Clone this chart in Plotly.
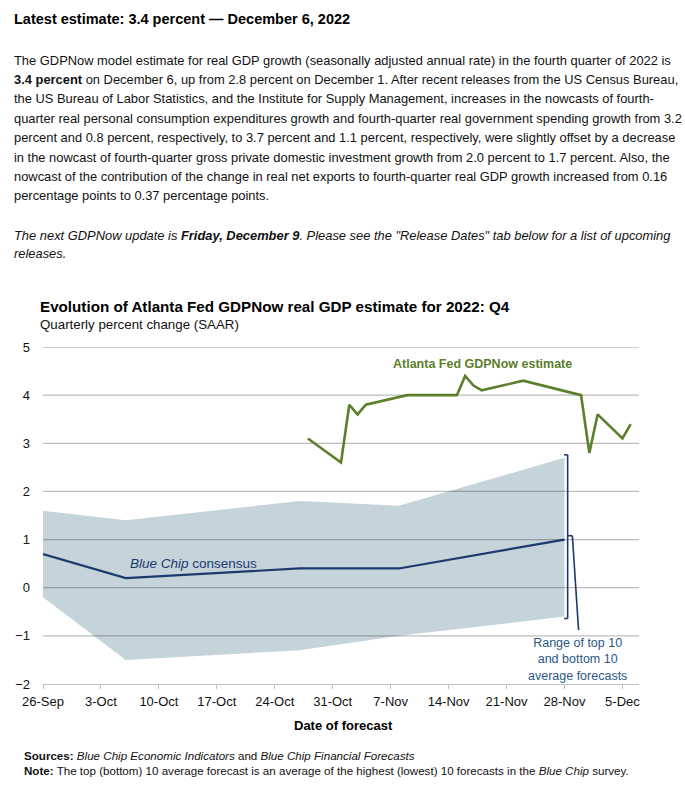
import plotly.graph_objects as go
from datetime import datetime, timedelta

# ---------------- data ----------------
gdpnow_dates = ["2022-10-28", "2022-11-01", "2022-11-02", "2022-11-03", "2022-11-04",
                "2022-11-09", "2022-11-15", "2022-11-16", "2022-11-17", "2022-11-18",
                "2022-11-23", "2022-11-30", "2022-12-01", "2022-12-02", "2022-12-05",
                "2022-12-06"]
gdpnow_values = [3.1, 2.6, 3.8, 3.6, 3.8, 4.0, 4.0, 4.4, 4.2, 4.1, 4.3, 4.0, 2.8, 3.6, 3.1, 3.4]

bluechip_dates = ["2022-09-26", "2022-10-06", "2022-10-27", "2022-11-08", "2022-11-28"]
bluechip_consensus = [0.7, 0.2, 0.4, 0.4, 1.0]
bluechip_top10 = [1.6, 1.4, 1.8, 1.7, 2.7]
bluechip_bottom10 = [-0.2, -1.5, -1.3, -1.0, -0.6]

x_tick_vals = ["2022-09-26", "2022-10-03", "2022-10-10", "2022-10-17", "2022-10-24",
               "2022-10-31", "2022-11-07", "2022-11-14", "2022-11-21", "2022-11-28",
               "2022-12-05"]
x_tick_text = ["26-Sep", "3-Oct", "10-Oct", "17-Oct", "24-Oct", "31-Oct", "7-Nov",
               "14-Nov", "21-Nov", "28-Nov", "5-Dec"]
y_tick_vals = [-2, -1, 0, 1, 2, 3, 4, 5]

# ---------------- layout constants ----------------
W, H = 685, 791
ML, MR, MT, MB = 43, 46, 347, 107
PW = W - ML - MR
PH = H - MT - MB

GREEN = "#5b7f2a"
NAVY = "#1c3a6e"
TEXTBLUE = "#2b5787"
GRID = "#c0c0c0"
GRID_T = "rgba(0,0,0,0.26)"
FONT = "Liberation Sans, Arial, sans-serif"


def px(x):
    return (x - ML) / PW


def py(y):
    return (H - MB - y) / PH


fig = go.Figure()

# band (top 10 / bottom 10)
fig.add_trace(go.Scatter(x=bluechip_dates, y=bluechip_bottom10, mode="lines",
                         line=dict(width=0), hoverinfo="skip", showlegend=False))
fig.add_trace(go.Scatter(x=bluechip_dates, y=bluechip_top10, mode="lines",
                         line=dict(width=0), fill="tonexty",
                         fillcolor="#c5d3db",
                         hoverinfo="skip", showlegend=False))
# consensus
fig.add_trace(go.Scatter(x=bluechip_dates, y=bluechip_consensus, mode="lines",
                         line=dict(color=NAVY, width=2.2), showlegend=False))
# GDPNow
fig.add_trace(go.Scatter(x=gdpnow_dates, y=gdpnow_values, mode="lines",
                         line=dict(color=GREEN, width=2.6), showlegend=False))

shapes = []
# gridlines: translucent so they darken over the shaded band (as in the original)
band_lo, band_hi = min(bluechip_bottom10), max(bluechip_top10)
for v in y_tick_vals[1:]:
    layer = "above" if band_lo <= v <= band_hi else "below"
    shapes.append(dict(type="line", xref="paper", yref="y", x0=0, x1=1, y0=v, y1=v,
                       layer=layer, line=dict(color=GRID_T, width=1.3)))

# ---------------- bracket annotation ----------------
last = datetime.strptime(bluechip_dates[-1], "%Y-%m-%d")
def d(days):
    return (last + timedelta(days=days)).strftime("%Y-%m-%d %H:%M")

top_y = bluechip_top10[-1] + 0.06
bot_y = bluechip_bottom10[-1] - 0.04
mid_y = bluechip_consensus[-1] + 0.08
bline = dict(color=NAVY, width=1.6)
shapes += [
    dict(type="line", xref="x", yref="y", x0=d(-0.05), x1=d(0.38), y0=top_y, y1=top_y, line=bline),
    dict(type="line", xref="x", yref="y", x0=d(0.38), x1=d(0.38), y0=top_y, y1=bot_y, line=bline),
    dict(type="line", xref="x", yref="y", x0=d(-0.05), x1=d(0.38), y0=bot_y, y1=bot_y, line=bline),
    dict(type="line", xref="x", yref="y", x0=d(0.38), x1=d(0.95), y0=mid_y, y1=mid_y, line=bline),
    dict(type="line", xref="x", yref="y", x0=d(0.95), x1=d(1.7), y0=mid_y, y1=-0.88, line=bline),
]

annotations = []

def txt(text, x, y, size, color="#111111", xanchor="left", yanchor="middle",
        align="left", font=FONT):
    annotations.append(dict(text=text, x=px(x), y=py(y), xref="paper", yref="paper",
                            xanchor=xanchor, yanchor=yanchor, align=align,
                            showarrow=False,
                            font=dict(family=font, size=size, color=color)))

# header text
txt("<b>Latest estimate: 3.4 percent — December 6, 2022</b>", 12, 19, 14.5, color="#000000")

para = [
    "The GDPNow model estimate for real GDP growth (seasonally adjusted annual rate) in the fourth quarter of 2022 is",
    "<b>3.4 percent</b> on December 6, up from 2.8 percent on December 1. After recent releases from the US Census Bureau,",
    "the US Bureau of Labor Statistics, and the Institute for Supply Management, increases in the nowcasts of fourth-",
    "quarter real personal consumption expenditures growth and fourth-quarter real government spending growth from 3.2",
    "percent and 0.8 percent, respectively, to 3.7 percent and 1.1 percent, respectively, were slightly offset by a decrease",
    "in the nowcast of fourth-quarter gross private domestic investment growth from 2.0 percent to 1.7 percent. Also, the",
    "nowcast of the contribution of the change in real net exports to fourth-quarter real GDP growth increased from 0.16",
    "percentage points to 0.37 percentage points.",
]
for i, line in enumerate(para):
    txt(line, 12, 60 + i * 19.4, 12.9)

txt("<i>The next GDPNow update is <b>Friday, December 9</b>. Please see the \"Release Dates\" tab below for a list of upcoming</i>",
    12, 235, 12.9)
txt("<i>releases.</i>", 12, 254, 12.9)

# chart title
txt("<b>Evolution of Atlanta Fed GDPNow real GDP estimate for 2022: Q4</b>", 38, 306, 15.2, color="#000000")
txt("Quarterly percent change (SAAR)", 38, 324, 13.3)

# series labels
txt("<b>Atlanta Fed GDPNow estimate</b>", 482, 364, 12.5, color=GREEN, xanchor="center")
txt("<i>Blue Chip</i> consensus", 193, 563, 13.5, color=NAVY, xanchor="center")
txt("Range of top 10<br>and bottom 10<br>average forecasts", 577, 659, 12.5,
    color=TEXTBLUE, xanchor="center", align="center")

# axis title
txt("<b>Date of forecast</b>", 343, 725, 13, xanchor="center", color="#000000")

# footer
txt("<b>Sources:</b> <i>Blue Chip Economic Indicators</i> and <i>Blue Chip Financial Forecasts</i>",
    22, 755, 11.6)
txt("<b>Note:</b> The top (bottom) 10 average forecast is an average of the highest (lowest) 10 forecasts in the <i>Blue Chip</i> survey.",
    22, 770, 11.6)

fig.update_layout(
    width=W, height=H,
    margin=dict(l=ML, r=MR, t=MT, b=MB, pad=0),
    paper_bgcolor="white", plot_bgcolor="white",
    font=dict(family=FONT, size=13, color="#111111"),
    showlegend=False,
    shapes=shapes,
    annotations=annotations,
    xaxis=dict(
        type="date",
        range=["2022-09-26", "2022-12-07"],
        tickmode="array", tickvals=x_tick_vals, ticktext=x_tick_text,
        showgrid=False, zeroline=False,
        showline=True, linecolor=GRID, linewidth=1.3,
        ticks="outside", ticklen=4, tickcolor=GRID, tickwidth=1.3,
        tickfont=dict(size=13, color="#111111"),
        ticklabelstandoff=1,
        fixedrange=True,
    ),
    yaxis=dict(
        range=[-2, 5],
        tickmode="array", tickvals=y_tick_vals,
        showgrid=False,
        zeroline=False, showline=False,
        ticks="", tickfont=dict(size=13, color="#111111"),
        ticklabelstandoff=12,
        fixedrange=True,
    ),
)

fig.write_html("out.html", config={"displayModeBar": False},
               post_script="document.body.style.margin='0';document.body.style.overflow='hidden';")
